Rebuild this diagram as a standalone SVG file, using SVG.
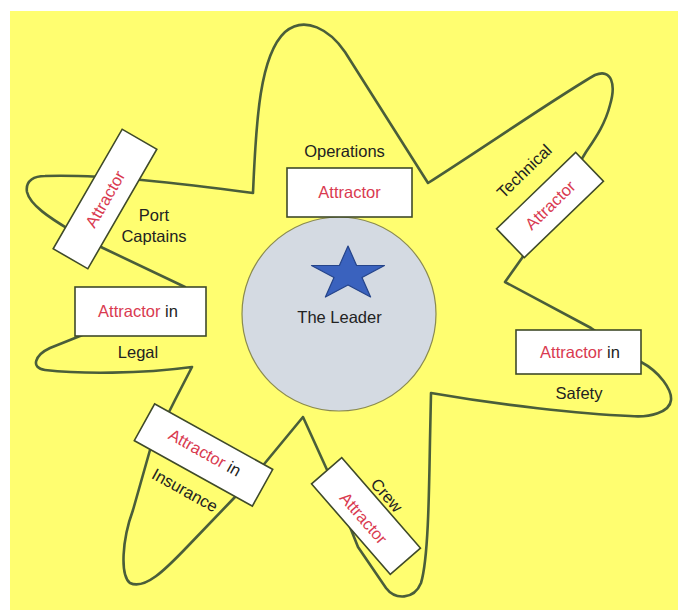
<svg xmlns="http://www.w3.org/2000/svg" width="678" height="610" viewBox="0 0 678 610">
<style>
.lbl{font-family:"Liberation Sans",Arial,sans-serif;font-size:16.5px;fill:#222;text-anchor:middle}
.red{fill:#D93A50}
.box{fill:#FFFFFF;stroke:#3F4A2A;stroke-width:1.6}
.blob{fill:none;stroke:#4A5E3A;stroke-width:2.6;stroke-linejoin:round}
</style>
<rect x="0" y="0" width="678" height="610" fill="#FFFFFF"/>
<rect x="10" y="11" width="668" height="599" fill="#FFFE70"/>
<g id="connectors">
<path class="blob" d="M253,193 C256,120 260,55 285,32 C305,15 330,30 345,52 L428,183 C480,150 560,95 595,75 C612,68 616,85 610,105 C605,125 594,140 586,152 L522,258 L505,282 L591,328 L641,362 C660,372 672,390 671,400 C670,412 650,418 630,416 C580,414 500,405 431,393 L430,440 C429,500 428,560 421,583 C414,600 395,600 386,588 L358,547 L328,472 L303,417 L265,463 L235,497 L187,547 C165,570 145,590 130,583 C120,575 122,540 133,510 L150,450 L175,400 L192,367 C140,374 80,374 45,370 C30,368 35,355 50,348 L80,336 L185,287 L103,248 L70,230 C50,218 30,205 27,192 C25,180 35,176 45,176 C100,174 180,183 253,193 Z"/>
</g>
<g id="leader">
<circle cx="339" cy="314" r="97" fill="#D4DAE2" stroke="#8A8A50" stroke-width="1.2"/>
<polygon points="348,246 356.6,265.5 384.5,265.5 362,277.5 370.6,297 348,285 325.4,297 334,277.5 311.5,265.5 339.4,265.5" fill="#3A62BE" stroke="#25448A" stroke-width="1.2" stroke-linejoin="round"/>
<text class="lbl" x="339.5" y="323">The Leader</text>
</g>
<g id="operations">
<rect class="box" x="287" y="168" width="125" height="49"/>
<text class="lbl red" x="349.5" y="198">Attractor</text>
<text class="lbl" x="344.5" y="157">Operations</text>
</g>
<g id="technical">
<g transform="translate(550,205) rotate(-44)">
<rect class="box" x="-55" y="-20" width="110" height="40"/>
<text class="lbl red" x="0" y="6">Attractor</text>
</g>
<text class="lbl" transform="translate(524,171) rotate(-44)" x="0" y="6">Technical</text>
</g>
<g id="safety">
<rect class="box" x="516" y="330" width="125" height="44"/>
<text class="lbl" x="580" y="358"><tspan class="red">Attractor</tspan> in</text>
<text class="lbl" x="579" y="399">Safety</text>
</g>
<g id="crew">
<g transform="translate(366,516) rotate(49)">
<rect class="box" x="-60" y="-20" width="120" height="40"/>
<text class="lbl red" x="0" y="9">Attractor</text>
</g>
<text class="lbl" transform="translate(387,495) rotate(49)" x="0" y="6">Crew</text>
</g>
<g id="insurance">
<g transform="translate(203.5,455) rotate(29)">
<rect class="box" x="-67.5" y="-21" width="135" height="42"/>
<text class="lbl" x="0" y="3"><tspan class="red">Attractor</tspan> in</text>
</g>
<text class="lbl" transform="translate(185,490) rotate(29)" x="0" y="6">Insurance</text>
</g>
<g id="legal">
<rect class="box" x="75" y="287" width="131" height="49"/>
<text class="lbl" x="138" y="317"><tspan class="red">Attractor</tspan> in</text>
<text class="lbl" x="138" y="358">Legal</text>
</g>
<g id="port-captains">
<g transform="translate(105,199) rotate(-60)">
<rect class="box" x="-69" y="-20" width="138" height="40"/>
<text class="lbl red" x="0" y="6">Attractor</text>
</g>
<text class="lbl" x="154" y="221">Port</text>
<text class="lbl" x="154" y="242">Captains</text>
</g>
</svg>
